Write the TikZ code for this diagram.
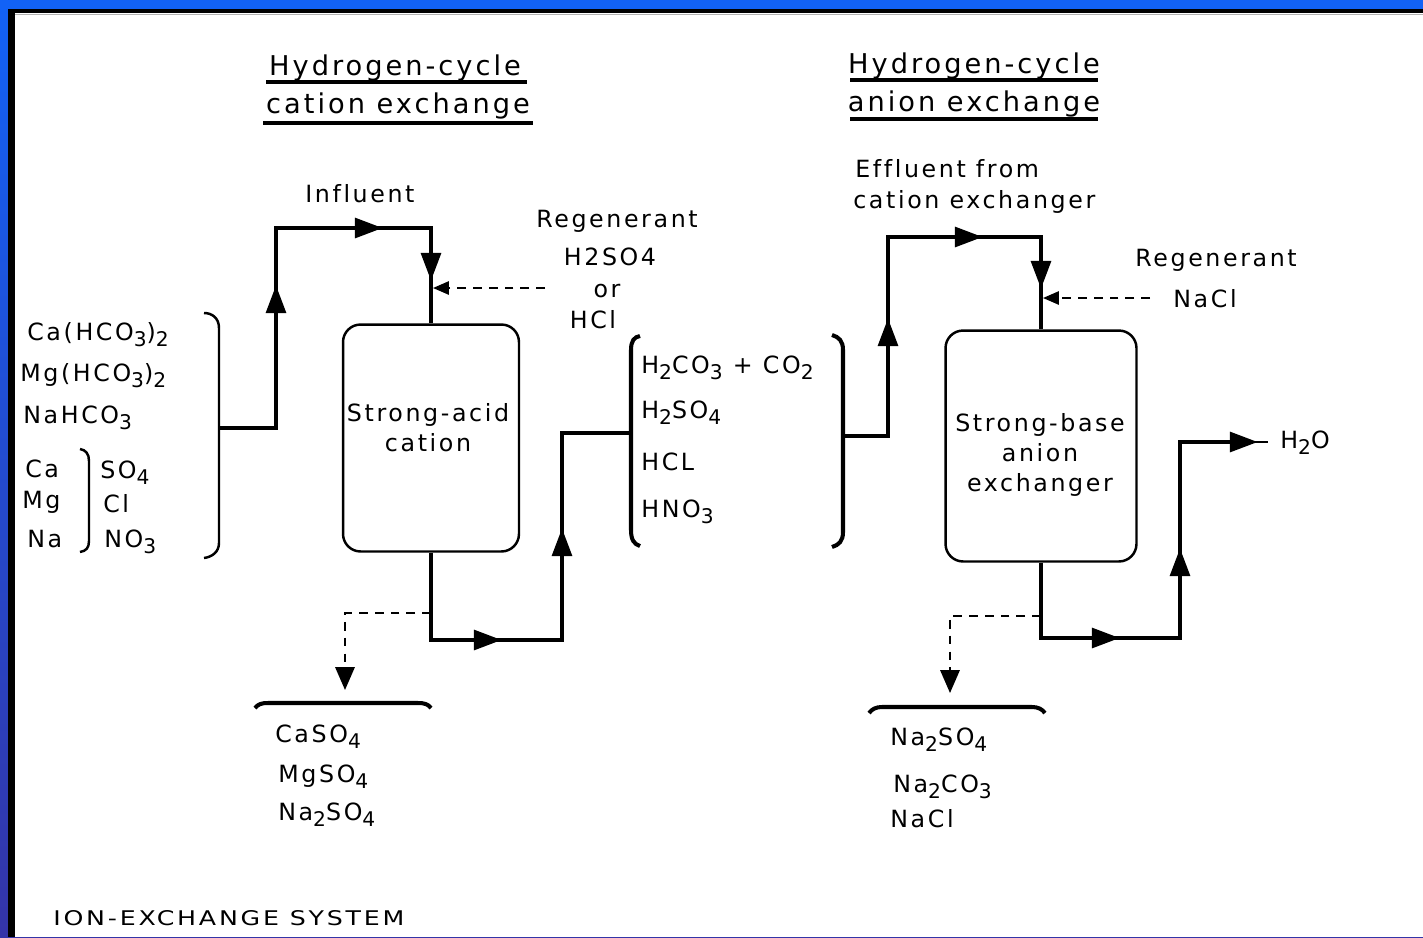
\documentclass[tikz,border=0pt]{standalone}
\usepackage{fontspec}
\setmainfont[LetterSpace=11,Ligatures=NoCommon]{DejaVu Sans}
\usetikzlibrary{arrows.meta,positioning}
\definecolor{frametop}{RGB}{18,98,246}
\definecolor{framebot}{RGB}{52,52,168}
\newcommand\lbl{\fontsize{13.5}{17}\selectfont}
\newcommand\hdr{\fontsize{15.5}{19}\selectfont}
\newcommand\chsub[1]{\raisebox{-3.6pt}{\fontsize{11.5}{13}\selectfont #1}}
\tikzset{
  pipe/.style={line width=2.8pt,line join=miter},
  flowhead/.style={line width=2.8pt,-{Triangle[length=16pt,width=11pt]}},
  regen/.style={line width=1.1pt,dash pattern=on 5pt off 4pt},
  brk/.style={line width=1.4pt},
  brkthick/.style={line width=2.3pt},
  tank/.style={draw,line width=1.4pt,rounded corners=10pt,minimum width=3.52cm,minimum height=4.54cm},
  txt/.style={anchor=base west,inner sep=0pt,font=\lbl},
  ctxt/.style={anchor=base,inner sep=0pt,font=\lbl},
  head/.style={anchor=base,inner sep=0pt,font=\hdr},
  uline/.style={line width=2.3pt}
}
\begin{document}
\begin{tikzpicture}[x=0.02cm,y=-0.02cm]
\useasboundingbox (0,0) rectangle (1423,937);
% frame
\shade[top color=frametop,bottom color=framebot] (0,0) rectangle (1423,937);
\fill[frametop] (0,0) rectangle (1423,9);
\fill[white] (15,13) rectangle (1423,937);
\fill (8,9) rectangle (1423,13);
\fill (8,9) rectangle (15,937);
\draw[gray!60,line width=0.8pt] (15,14.5)--(1423,14.5);

% titles
\node[head] (catT1) at (395,75) {Hydrogen-cycle};
\node[head] (catT2) at (398,113) {cation exchange};
\node[head] (anT1) at (974,73) {Hydrogen-cycle};
\node[head] (anT2) at (974,111) {anion exchange};
\draw[uline] (266,82)--(527,82) (263,123)--(533,123) (850,80)--(1098,80) (850,119)--(1098,119);

% raw water
\node[txt] (feed1) at (27,340) {Ca(HCO\chsub{3})\chsub{2}};
\node[txt] (feed2) at (20,381) {Mg(HCO\chsub{3})\chsub{2}};
\node[txt] (feed3) at (23,423) {NaHCO\chsub{3}};
\node[txt] (ionCa) at (25,477) {Ca};
\node[txt] (ionMg) at (22,508) {Mg};
\node[txt] (ionNa) at (27,547) {Na};
\node[txt] (ionSO) at (100,478) {SO\chsub{4}};
\node[txt] (ionCl) at (103,512) {Cl};
\node[txt] (ionNO) at (104,547) {NO\chsub{3}};
\draw[brk] (80,449)..controls (86,450) and (89,454)..(89,461)--(89,541)..controls (89,548) and (86,551)..(80,552);
\draw[brk] (204,313)..controls (212,313) and (219,318)..(219,328)--(219,543)..controls (219,552) and (212,557)..(204,558);
\coordinate (feedOut) at (219,428);

% cation unit
\node[txt] (infl) at (305,202) {Influent};
\node[tank] (tankA) at (431,438) {};
\node[font=\lbl,align=center,inner sep=0pt] (tankAtxt) at (428,428) {Strong-acid\\cation};
\draw[pipe] (feedOut)--(276,428)--(276,228)--(431,228)--(tankA.north);
\node[ctxt] (regA1) at (617,227) {Regenerant};
\node[ctxt] (regA2) at (610,265) {H2SO4};
\node[ctxt] (regA3) at (607,297) {or};
\node[ctxt] (regA4) at (593,328) {HCl};
\coordinate (regAin) at (545,288);
\coordinate (regAend) at (433,288);
\draw[regen,-{Triangle[length=9pt,width=7.5pt]}] (regAin)--(regAend);
\coordinate (acidIn) at (631,433);
\draw[pipe] (tankA.south)--(431,640)--(562,640)--(562,433)--(acidIn);
\coordinate (wasteA) at (431,613);
\draw[regen,-{Triangle[length=13pt,width=11pt]}] (wasteA)-|(345,690);
\draw[brkthick] (255,708)..controls (258,704) and (262,703)..(268,703)--(418,703)..controls (424,703) and (428,704)..(431,708);
\node[txt] (spentA1) at (275,742) {CaSO\chsub{4}};
\node[txt] (spentA2) at (278,782) {MgSO\chsub{4}};
\node[txt] (spentA3) at (278,820) {Na\chsub{2}SO\chsub{4}};

% acids
\draw[brkthick] (640,336)..controls (634,337) and (631,341)..(631,350)--(631,530)..controls (631,540) and (634,544)..(640,546);
\draw[brkthick] (832,335)..controls (839,337) and (843,341)..(843,350)--(843,532)..controls (843,541) and (839,545)..(832,547);
\node[txt] (acid1) at (641,373) {H\chsub{2}CO\chsub{3} + CO\chsub{2}};
\node[txt] (acid2) at (641,418) {H\chsub{2}SO\chsub{4}};
\node[txt] (acid3) at (641,470) {HCL};
\node[txt] (acid4) at (641,517) {HNO\chsub{3}};
\coordinate (acidOut) at (843,436);

% anion unit
\node[txt] (effl1) at (855,177) {Effluent from};
\node[txt] (effl2) at (853,208) {cation exchanger};
\node[tank,minimum width=3.82cm,minimum height=4.62cm] (tankB) at (1041,446) {};
\node[font=\lbl,align=center,inner sep=0pt] (tankBtxt) at (1040,455) {Strong-base\\anion\hspace*{25pt}\\exchanger};
\draw[pipe] (acidOut)--(888,436)--(888,237)--(1041,237)--(tankB.north);
\node[txt] (regB1) at (1135,266) {Regenerant};
\node[txt] (regB2) at (1173,307) {NaCl};
\coordinate (regBin) at (1150,298);
\coordinate (regBend) at (1043,298);
\draw[regen,-{Triangle[length=9pt,width=7.5pt]}] (regBin)--(regBend);
\coordinate (waterOut) at (1225,442);
\draw[pipe] (tankB.south)--(1041,638)--(1180,638)--(1180,442)--(waterOut);
\draw[line width=1pt] (1240,442)--(1268,442);
\node[txt] (water) at (1280,448) {H\chsub{2}O};
\coordinate (wasteB) at (1041,616);
\draw[regen,-{Triangle[length=13pt,width=11pt]}] (wasteB)-|(950,693);
\draw[brkthick] (869,713)..controls (872,709) and (876,707)..(882,707)--(1032,707)..controls (1038,707) and (1042,709)..(1045,713);
\node[txt] (spentB1) at (890,745) {Na\chsub{2}SO\chsub{4}};
\node[txt] (spentB2) at (893,792) {Na\chsub{2}CO\chsub{3}};
\node[txt] (spentB3) at (890,827) {NaCl};

% flow arrows
\foreach \ax/\ay/\bx/\by in {276/311/276/285, 350/228/383/228, 431/255/431/281, 470/640/502/640, 562/555/562/528,
  888/344/888/318, 950/237/983/237, 1041/265/1041/289, 1087/638/1120/638, 1180/575/1180/548, 1215/442/1258/442}
  \draw[flowhead] (\ax,\ay)--(\bx,\by);

\node[anchor=base west,inner sep=0pt] (caption) at (53,925) {\scalebox{1.25}[1]{\fontsize{11.5}{13}\selectfont ION-EXCHANGE SYSTEM}};
\end{tikzpicture}
\end{document}
